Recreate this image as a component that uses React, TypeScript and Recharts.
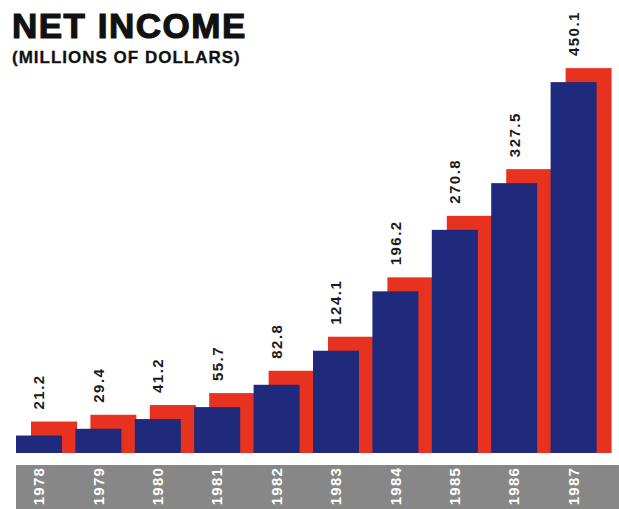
import React from "react";
import { BarChart, Bar, XAxis, YAxis, LabelList } from "recharts";

const years = ["1978", "1979", "1980", "1981", "1982", "1983", "1984", "1985", "1986", "1987"];
const netIncome = [21.2, 29.4, 41.2, 55.7, 82.8, 124.1, 196.2, 270.8, 327.5, 450.1];
const valueLabels = ["21.2", "29.4", "41.2", "55.7", "82.8", "124.1", "196.2", "270.8", "327.5", "450.1"];

const data = years.map((year, i) => ({ year, value: netIncome[i], label: valueLabels[i] }));

const BLUE = "#1f2a7c";
const RED = "#e6321f";
const GRAY = "#878787";
const DX = 15;
const DY = 14;

const BarShape = (props: any) => {
  const { x, y, width, height } = props;
  return (
    <g>
      <rect x={x + DX} y={y - DY} width={width} height={height + DY} fill={RED} />
      <rect x={x} y={y} width={width} height={height} fill={BLUE} />
    </g>
  );
};

const ValueLabel = (props: any) => {
  const { x, y, width, value } = props;
  const cx = x + width / 2;
  const cy = y - DY - 12;
  return (
    <text
      x={cx}
      y={cy}
      transform={`rotate(-90 ${cx} ${cy})`}
      textAnchor="start"
      dominantBaseline="central"
      fontFamily="'Liberation Sans', Arial, sans-serif"
      fontWeight="bold"
      fontSize={15}
      letterSpacing={1.5}
      fill="#1a1a1a"
    >
      {value}
    </text>
  );
};

const YearTick = (props: any) => {
  const { x, payload } = props;
  const ty = 467;
  return (
    <text
      x={x}
      y={ty}
      transform={`rotate(-90 ${x} ${ty})`}
      textAnchor="end"
      dominantBaseline="central"
      fontFamily="'Liberation Sans', Arial, sans-serif"
      fontWeight="bold"
      fontSize={15}
      letterSpacing={1.2}
      fill="#ffffff"
    >
      {payload.value}
    </text>
  );
};

export default function App() {
  return (
    <div style={{ position: "absolute", left: 0, top: 0, width: 619, height: 509, background: "#fff", overflow: "hidden" }}>
      <div style={{ position: "absolute", left: 16, top: 465, width: 603, height: 44, background: GRAY }} />
      <svg style={{ position: "absolute", left: 0, top: 0 }} width={619} height={100}>
        <text x={12} y={38} fontFamily="'Liberation Sans', Arial, sans-serif" fontWeight="bold" fontSize={35} letterSpacing={1.5} fill="#111" stroke="#111" strokeWidth={1.2}>
          NET INCOME
        </text>
        <text x={12} y={63} fontFamily="'Liberation Sans', Arial, sans-serif" fontWeight="bold" fontSize={17} letterSpacing={1} fill="#111" stroke="#111" strokeWidth={0.3}>
          (MILLIONS OF DOLLARS)
        </text>
      </svg>
      <div style={{ position: "absolute", left: 0, top: 0 }}>
        <BarChart width={619} height={509} data={data} margin={{ top: 41, right: 16, bottom: 0, left: 9 }} barCategoryGap={0}>
          <XAxis dataKey="year" height={56} axisLine={false} tickLine={false} tick={<YearTick />} interval={0} />
          <YAxis hide domain={[0, 500]} />
          <Bar dataKey="value" barSize={46} shape={<BarShape />} isAnimationActive={false}>
            <LabelList dataKey="label" content={<ValueLabel />} />
          </Bar>
        </BarChart>
      </div>
    </div>
  );
}
